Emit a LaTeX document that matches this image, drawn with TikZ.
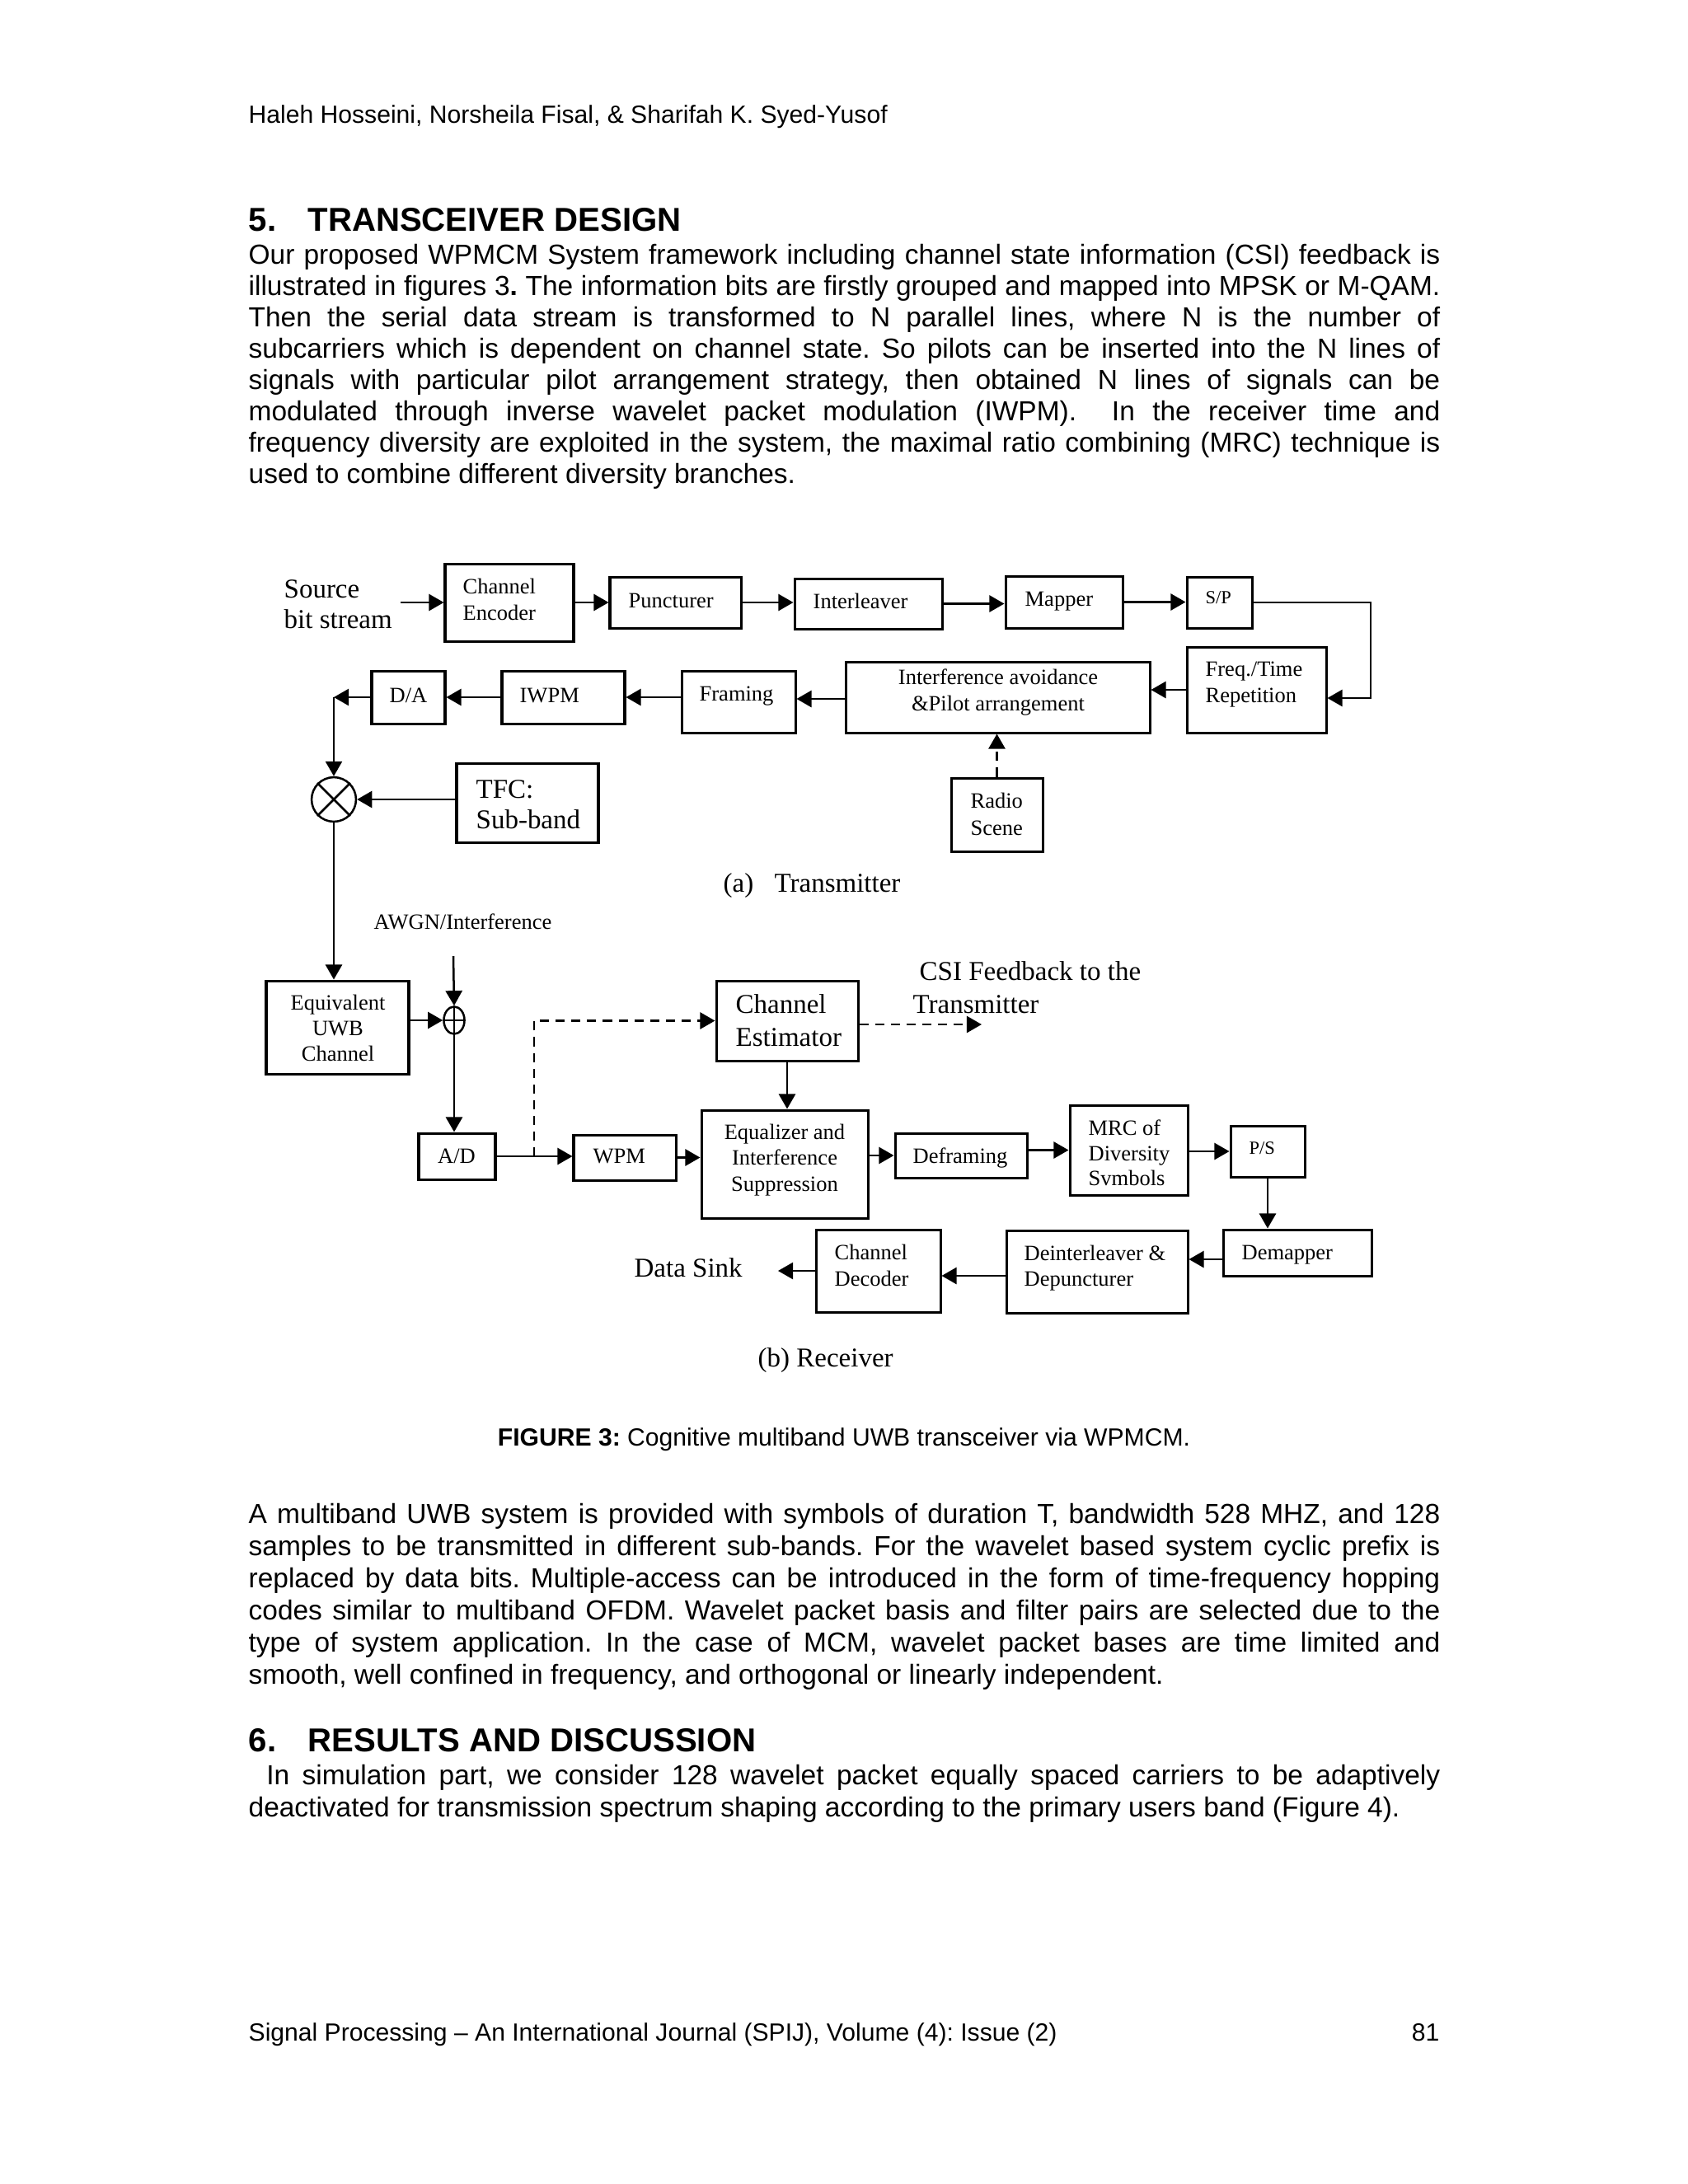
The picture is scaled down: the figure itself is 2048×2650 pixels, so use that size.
\documentclass[tikz,border=0pt]{standalone}
\usepackage{fontspec}
\setmainfont{Liberation Sans}
\newfontfamily\tms{Liberation Serif}
\usetikzlibrary{arrows.meta,shapes.geometric,fit}
\frenchspacing
\begin{document}
\begin{tikzpicture}[x=0.29883pt,y=-0.29883pt,
 box/.style={draw, line width=0.9pt, inner sep=0pt, rectangle},
 arr/.style={line width=0.75pt, -{Triangle[length=5.4pt,width=6pt]}},
 ln/.style={line width=0.75pt},
 dsh/.style={dash pattern=on 3.3pt off 2.4pt},
 dl/.style={inner sep=0pt, anchor=base west, font=\tms\fontsize{7.92pt}{9pt}\selectfont},
 dlc/.style={dl, anchor=base},
 dlb/.style={inner sep=0pt, anchor=base west, font=\tms\fontsize{9.86pt}{11pt}\selectfont},
 dls/.style={inner sep=0pt, anchor=base west, font=\tms\fontsize{6.72pt}{8pt}\selectfont},
 body/.style={inner sep=0pt, anchor=base west, font=\fontsize{10pt}{11.5pt}\selectfont},
 small/.style={inner sep=0pt, anchor=base west, font=\fontsize{9pt}{10.5pt}\selectfont},
 head/.style={inner sep=0pt, anchor=base west, font=\fontsize{12pt}{14pt}\selectfont\bfseries}
]
\useasboundingbox (0,0) rectangle (2048,2650);
\fill[white] (0,0) rectangle (2048,2650);

% ---------------- page text ----------------
\node[small] (hdr) at (301,149) {Haleh Hosseini, Norsheila Fisal, \& Sharifah K. Syed-Yusof};
\node[head] (h5) at (301,280) {\makebox[21.5pt][l]{5.}TRANSCEIVER DESIGN};
\node[body] (a1) at (301,320) {\hbox to 432pt{Our proposed WPMCM System framework including channel state information (CSI) feedback is}};
\node[body] (a2) at (301,358) {\hbox to 432pt{illustrated in figures 3\textbf{.} The information bits are firstly grouped and mapped into MPSK or M-QAM.}};
\node[body] (a3) at (301,396) {\hbox to 432pt{Then the serial data stream is transformed to N parallel lines, where N is the number of}};
\node[body] (a4) at (301,434) {\hbox to 432pt{subcarriers which is dependent on channel state. So pilots can be inserted into the N lines of}};
\node[body] (a5) at (301,472) {\hbox to 432pt{signals with particular pilot arrangement strategy, then obtained N lines of signals can be}};
\node[body] (a6) at (301,510) {\hbox to 432pt{modulated through inverse wavelet packet modulation (IWPM).~ In the receiver time and}};
\node[body] (a7) at (301,548) {\hbox to 432pt{frequency diversity are exploited in the system, the maximal ratio combining (MRC) technique is}};
\node[body] (a8) at (301,586) {used to combine different diversity branches.};

\node[small, anchor=base] (cap) at (1024,1754) {\textbf{FIGURE 3:} Cognitive multiband UWB transceiver via WPMCM.};

\node[body] (b1) at (301,1848) {\hbox to 432pt{A multiband UWB system is provided with symbols of duration T, bandwidth 528 MHZ, and 128}};
\node[body] (b2) at (301,1887) {\hbox to 432pt{samples to be transmitted in different sub-bands. For the wavelet based system cyclic prefix is}};
\node[body] (b3) at (301,1926) {\hbox to 432pt{replaced by data bits. Multiple-access can be introduced in the form of time-frequency hopping}};
\node[body] (b4) at (301,1965) {\hbox to 432pt{codes similar to multiband OFDM. Wavelet packet basis and filter pairs are selected due to the}};
\node[body] (b5) at (301,2004) {\hbox to 432pt{type of system application. In the case of MCM, wavelet packet bases are time limited and}};
\node[body] (b6) at (301,2043) {smooth, well confined in frequency, and orthogonal or linearly independent.};

\node[head] (h6) at (301,2125) {\makebox[21.5pt][l]{6.}RESULTS AND DISCUSSION};
\node[body] (c1) at (301,2165) {\hbox to 432pt{\hspace*{6.5pt}In simulation part, we consider 128 wavelet packet equally spaced carriers to be adaptively}};
\node[body] (c2) at (301,2204) {deactivated for transmission spectrum shaping according to the primary users band (Figure 4).};

\node[small] (ftr) at (301,2476) {Signal Processing -- An International Journal (SPIJ), Volume (4): Issue (2)};
\node[small, anchor=base east] (pg) at (1747,2476) {81};

% ---------------- transmitter ----------------
\node[dlb] (src1) at (344,725) {Source};
\node[dlb] (src2) at (344,762) {bit stream};
\coordinate (s0) at (486,731);
\node[box, fit={(540,684) (696,778)}] (ce) {};
\node[dl] (ce1) at (561,720) {Channel};
\node[dl] (ce2) at (561,752) {Encoder};
\node[box, fit={(740,700) (899,762)}] (pu) {};
\node[dl] (pu1) at (762,737) {Puncturer};
\node[box, fit={(964,702) (1143,763)}] (il) {};
\node[dl] (il1) at (986,738) {Interleaver};
\node[box, fit={(1220,699) (1362,762)}] (mp) {};
\node[dl] (mp1) at (1243,735) {Mapper};
\node[box, fit={(1440,700) (1519,762)}] (sp) {};
\node[dls] (sp1) at (1462,732) {S/P};
\node[box, fit={(1440,785) (1609,889)}] (fr) {};
\node[dl] (fr1) at (1462,820) {Freq./Time};
\node[dl] (fr2) at (1462,852) {Repetition};
\node[box, fit={(1026,803) (1395,889)}] (ia) {};
\node[dlc] (ia1) at (1211,830) {Interference avoidance};
\node[dlc] (ia2) at (1211,862) {\&Pilot arrangement};
\node[box, fit={(827,814) (965,889)}] (fm) {};
\node[dl] (fm1) at (848,850) {Framing};
\node[box, fit={(609,814) (758,878)}] (iw) {};
\node[dl] (iw1) at (630,852) {IWPM};
\node[box, fit={(451,814) (540,878)}] (da) {};
\node[dl] (da1) at (472,852) {D/A};
\node[draw, circle, line width=0.75pt, minimum size=16.1pt, inner sep=0pt] (mix) at (405,970) {};
\draw[ln] (mix.north west) -- (mix.south east);
\draw[ln] (mix.north east) -- (mix.south west);
\node[box, fit={(554,926) (726,1022)}] (tfc) {};
\node[dlb] (tfc1) at (577,968) {TFC:};
\node[dlb] (tfc2) at (577,1005) {Sub-band};
\node[box, fit={(1154,944) (1265,1033)}] (rs) {};
\node[dl] (rs1) at (1177,980) {Radio};
\node[dl] (rs2) at (1177,1013) {Scene};
\node[dlb] (capa) at (877,1082) {(a)};
\node[dlb] (capb) at (939,1082) {Transmitter};

\draw[arr] (s0) -- (s0 -| ce.west);
\draw[arr] (ce.east) -- (ce.east -| pu.west);
\draw[arr] (pu.east) -- (pu.east -| il.west);
\draw[arr] (il.east) -- (il.east -| mp.west);
\draw[arr] (mp.east) -- (mp.east -| sp.west);
\coordinate (rt) at (1663,847);
\draw[arr] (sp.east) -| (rt) -- (rt -| fr.east);
\draw[arr] (fr.west) -- (fr.west -| ia.east);
\draw[arr] (ia.west |- 0,848) -- (fm.east |- 0,848);
\draw[arr] (fm.west |- iw.east) -- (iw.east);
\draw[arr] (iw.west) -- (iw.west -| da.east);
\coordinate (dc) at (405,846);
\draw[arr] (da.west) -- (dc);
\draw[arr] (dc) -- (mix.north);
\draw[arr] (tfc.west |- mix.east) -- (mix.east);
\draw[arr, dsh] (rs.north) -- (rs.north |- ia.south);

% ---------------- receiver ----------------
\node[box, fit={(323,1190) (496,1303)}] (eq) {};
\node[dlc] (eq1) at (410,1225) {Equivalent};
\node[dlc] (eq2) at (410,1256) {UWB};
\node[dlc] (eq3) at (410,1287) {Channel};
\node[dl] (awgn) at (453,1127) {AWGN/Interference};
\coordinate (n0) at (550,1160);
\node[draw, ellipse, line width=0.75pt, minimum width=7.5pt, minimum height=9.9pt, inner sep=0pt] (sum) at (551,1238) {};
\draw[ln] (sum.north) -- (sum.south);
\draw[ln] (sum.west) -- (sum.east);
\node[box, fit={(508,1375) (601,1431)}] (ad) {};
\node[dlc] (ad1) at (554,1411) {A/D};
\node[box, fit={(696,1377) (820,1432)}] (wpm) {};
\node[dl] (wpm1) at (719,1411) {WPM};
\node[box, fit={(869,1190) (1041,1287)}] (est) {};
\node[dlb] (est1) at (892,1229) {Channel};
\node[dlb] (est2) at (892,1269) {Estimator};
\node[box, fit={(851,1347) (1053,1478)}] (equ) {};
\node[dlc] (equ1) at (952,1382) {Equalizer and};
\node[dlc] (equ2) at (952,1413) {Interference};
\node[dlc] (equ3) at (952,1445) {Suppression};
\node[box, fit={(1086,1375) (1246,1429)}] (dfr) {};
\node[dl] (dfr1) at (1107,1411) {Deframing};
\node[box, fit={(1298,1341) (1441,1450)}] (mrc) {};
\node[dl] (mrc1) at (1320,1377) {MRC of};
\node[dl] (mrc2) at (1320,1408) {Diversity};
\node[dl] (mrc3) at (1320,1438) {Svmbols};
\node[box, fit={(1493,1366) (1583,1428)}] (ps) {};
\node[dls] (ps1) at (1515,1400) {P/S};
\node[box, fit={(1484,1492) (1664,1548)}] (dmp) {};
\node[dl] (dmp1) at (1506,1528) {Demapper};
\node[box, fit={(1221,1493) (1441,1593)}] (dil) {};
\node[dl] (dil1) at (1242,1529) {Deinterleaver \&};
\node[dl] (dil2) at (1242,1560) {Depuncturer};
\node[box, fit={(990,1492) (1141,1592)}] (cd) {};
\node[dl] (cd1) at (1012,1528) {Channel};
\node[dl] (cd2) at (1012,1560) {Decoder};
\node[dlb] (sink) at (769,1549) {Data Sink};
\node[dlb] (rx) at (919,1658) {(b) Receiver};
\node[dlb] (csi1) at (1115,1189) {CSI Feedback to the};
\node[dlb] (csi2) at (1107,1229) {Transmitter};
\coordinate (csiend) at (1191,1243);
\coordinate (tap) at (648,1403);
\coordinate (sk) at (944,1542);

\draw[arr] (mix.south) -- (mix.south |- eq.north);
\draw[arr] (n0) -- (sum.north);
\draw[arr] (sum.west -| eq.east) -- (sum.west);
\draw[arr] (sum.south) -- (sum.south |- ad.north);
\draw[arr] (ad.east) -- (ad.east -| wpm.west);
\draw[arr, dsh] (tap) |- (est.west);
\draw[arr] (est.south) -- (est.south |- equ.north);
\draw[arr] (wpm.east) -- (wpm.east -| equ.west);
\draw[arr] (dfr.west -| equ.east) -- (dfr.west);
\draw[arr] (mrc.west -| dfr.east) -- (mrc.west);
\draw[arr] (mrc.east |- ps.west) -- (ps.west);
\draw[arr] (ps.south) -- (ps.south |- dmp.north);
\draw[arr] (dmp.west |- 0,1528) -- (dil.east |- 0,1528);
\draw[arr] (dil.west |- 0,1548) -- (cd.east |- 0,1548);
\draw[arr] (cd.west |- sk) -- (sk);
\draw[arr, dsh] (est.east |- csiend) -- (csiend);
\end{tikzpicture}
\end{document}
